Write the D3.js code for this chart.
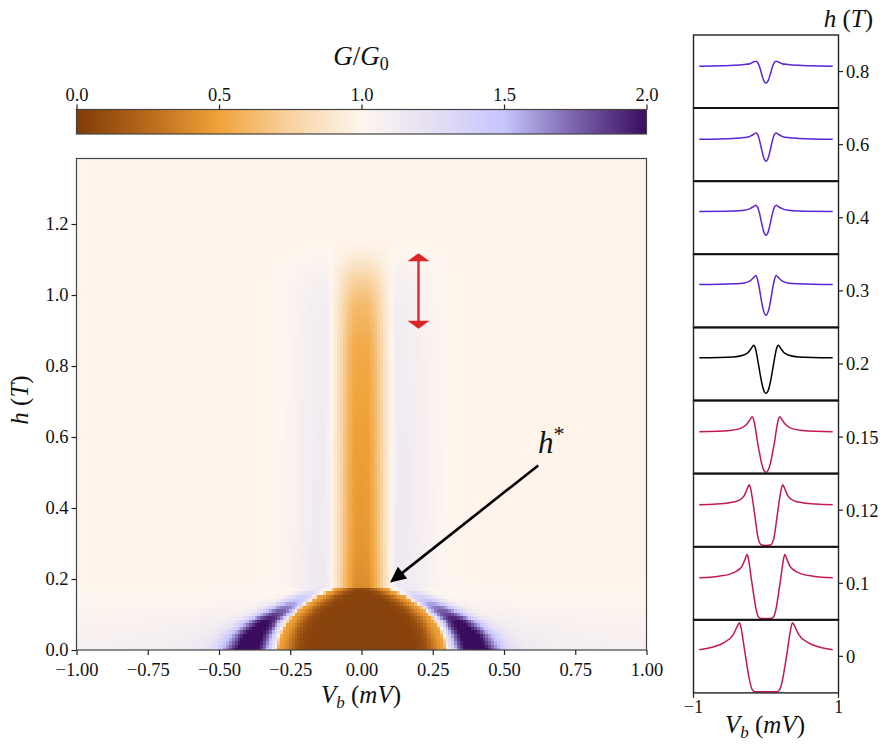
<!DOCTYPE html>
<html>
<head>
<meta charset="utf-8">
<script src="https://cdn.jsdelivr.net/npm/d3@7"></script>
<style>
  body { margin: 0; background: #fff; }
  svg text { font-family: "Liberation Serif", "DejaVu Serif", serif; fill: #111; }
  .it { font-style: italic; }
</style>
</head>
<body>
<svg id="fig" width="883" height="744"></svg>
<script>
// ---- colour map (G/G0) ----
const cmapStops = [0, 0.25, 0.5, 0.75, 1.0, 1.25, 1.5, 1.75, 2.0];
const cmapColors = ["#7f3b08", "#b8691b", "#f1a33a", "#f8d2a0", "#fef6ef", "#e4dff4", "#c6c5fe", "#7a62ab", "#3a0c5e"];
const cbTicks = [0, 0.5, 1.0, 1.5, 2.0];

// ---- main axes ticks ----
const vTicks = [-1, -0.75, -0.5, -0.25, 0, 0.25, 0.5, 0.75, 1];
const hTicks = [0, 0.2, 0.4, 0.6, 0.8, 1.0, 1.2];

// ---- heatmap features ----
const bgVal = 0.985;                    // cream background
// gap (dark brown trapezoid) below h*
const gapH    = [0, 0.03, 0.06, 0.09, 0.12, 0.15, 0.172];
const gapEdge = [0.29, 0.283, 0.268, 0.245, 0.205, 0.15, 0.09];
// purple coherence-peak band below h*
const bandH    = [0, 0.04, 0.08, 0.12, 0.15, 0.172];
const bandPos  = [0.40, 0.38, 0.34, 0.27, 0.21, 0.16];
const bandPeak = [1.95, 1.93, 1.85, 1.62, 1.38, 1.15];
const bandIn   = [0.075, 0.07, 0.06, 0.05, 0.04, 0.035];
const bandOut  = [0.085, 0.08, 0.07, 0.06, 0.05, 0.045];
const bandTail = [0.22, 0.18, 0.12, 0.06, 0.02, 0.0];
// faint lavender tint over the low-field strip
const tintH = [0, 0.05, 0.09, 0.13, 0.17, 0.21];
const tint  = [0.07, 0.06, 0.045, 0.025, 0.01, 0.0];
// orange column above h*
const hStar = 0.172;
const colH      = [0.172, 0.3, 0.6, 0.85, 0.97, 1.04, 1.08, 1.12, 1.16];
const colCenter = [0.40, 0.45, 0.48, 0.53, 0.62, 0.74, 0.86, 0.95, 0.985];
const colHalo   = [0.16, 0.15, 0.14, 0.13, 0.12, 0.09, 0.06, 0.02, 0.0];

// ---- line-cut panels (right), half profiles for Vb >= 0, symmetric ----
const panelH = ["0.8", "0.6", "0.4", "0.3", "0.2", "0.15", "0.12", "0.1", "0"];
const panelColors = ["#5b24d4", "#5b24d4", "#5b24d4", "#5b24d4", "#000000",
                     "#c2185b", "#c2185b", "#c2185b", "#c2185b"];
const cut08  = [[0,0.57],[0.03,0.63],[0.06,0.79],[0.09,0.97],[0.115,1.07],[0.14,1.10],[0.17,1.08],[0.22,1.04],[0.3,1.02],[0.45,1.0],[0.6,0.99],[0.92,0.98]];
const cut06  = [[0,0.45],[0.03,0.53],[0.06,0.73],[0.09,0.96],[0.115,1.09],[0.14,1.13],[0.17,1.10],[0.22,1.05],[0.3,1.02],[0.45,1.0],[0.92,0.98]];
const cut04  = [[0,0.43],[0.03,0.51],[0.06,0.72],[0.09,0.96],[0.115,1.10],[0.14,1.15],[0.17,1.12],[0.22,1.07],[0.3,1.03],[0.45,1.01],[0.92,1.0]];
const cut03  = [[0,0.26],[0.03,0.35],[0.06,0.58],[0.09,0.89],[0.115,1.11],[0.14,1.22],[0.17,1.17],[0.22,1.09],[0.3,1.04],[0.45,1.02],[0.92,1.0]];
const cut02  = [[0,0.14],[0.03,0.21],[0.06,0.41],[0.09,0.70],[0.12,1.0],[0.145,1.22],[0.17,1.30],[0.2,1.23],[0.25,1.12],[0.32,1.06],[0.45,1.02],[0.92,1.0]];
const cut015 = [[0,0.0],[0.03,0.05],[0.06,0.21],[0.08,0.38],[0.1,0.56],[0.12,0.76],[0.15,1.10],[0.17,1.27],[0.19,1.34],[0.22,1.27],[0.27,1.15],[0.35,1.06],[0.5,1.01],[0.92,0.98]];
const cut012 = [[0,0],[0.06,0.01],[0.09,0.07],[0.12,0.28],[0.145,0.60],[0.17,0.92],[0.2,1.26],[0.23,1.46],[0.26,1.36],[0.3,1.20],[0.38,1.08],[0.5,1.03],[0.92,0.98]];
const cut01  = [[0,0],[0.08,0.01],[0.11,0.06],[0.14,0.25],[0.18,0.69],[0.21,1.05],[0.24,1.42],[0.26,1.54],[0.29,1.42],[0.33,1.26],[0.4,1.15],[0.5,1.07],[0.65,1.02],[0.92,0.98]];
const cut0   = [[0,0],[0.15,0],[0.19,0.05],[0.23,0.30],[0.26,0.60],[0.3,1.05],[0.34,1.50],[0.365,1.66],[0.4,1.56],[0.45,1.38],[0.58,1.18],[0.72,1.08],[0.92,1.01]];
const panelCuts = [cut08, cut06, cut04, cut03, cut02, cut015, cut012, cut01, cut0];

const svg = d3.select("#fig");
const color = d3.scaleLinear().domain(cmapStops).range(cmapColors).clamp(true);

// scales for main map
const xs = d3.scaleLinear().domain([-1, 1]).range([76.5, 646.5]);
const ys = d3.scaleLinear().domain([0, 1.386]).range([650, 158]);

// ---------- heatmap ----------
const lin = (d, r) => d3.scaleLinear().domain(d).range(r).clamp(true);
const edgeAt = lin(gapH, gapEdge);
const posAt = lin(bandH, bandPos), peakAt = lin(bandH, bandPeak),
      inAt = lin(bandH, bandIn), outAt = lin(bandH, bandOut), tailAt = lin(bandH, bandTail);
const tintAt = lin(tintH, tint);
const colAt = lin(colH, colCenter), haloAt = lin(colH, colHalo);

function gValue(v, h) {
  const u = Math.abs(v);
  if (h < hStar) {
    const e = edgeAt(h);
    if (u < e) return 0.04 + 0.45 * Math.exp(-Math.pow((e - u) / 0.05, 2));
    const ramp = Math.min(1, (u - e) / 0.015);
    const d = u - posAt(h);
    const band = d < 0 ? Math.exp(-Math.pow(-d / inAt(h), 4)) : Math.exp(-Math.pow(d / outAt(h), 2));
    const tail = tailAt(h) * (d < 0 ? Math.exp(-Math.pow(d / 0.03, 2)) : Math.exp(-d / 0.2));
    return 0.49 + (bgVal - 0.49) * ramp + ramp * ((peakAt(h) - 1) * band + tail + tintAt(h));
  }
  const c = colAt(h);
  const dip = (bgVal - c) * Math.exp(-Math.pow(u / 0.075, 3));
  const dh = u - 0.13;
  const halo = haloAt(h) * (dh < 0 ? Math.exp(-Math.pow(dh / 0.025, 2)) : Math.exp(-Math.pow(dh / 0.12, 2)));
  return bgVal - dip + halo + tintAt(h) * (1 - Math.exp(-Math.pow(u / 0.1, 2)));
}

const vCells = d3.range(-1, 1.0001, 0.01);
const hCells = d3.range(0, 1.386, 0.01);
const px0 = 76, py0 = 158, pw = 571, ph = 492;
const canvas = document.createElement("canvas");
canvas.width = pw; canvas.height = ph;
const ctx = canvas.getContext("2d");
hCells.forEach(h => {
  const y1 = Math.round(ys(h - 0.005)) - py0, y0 = Math.round(ys(h + 0.005)) - py0;
  vCells.forEach(v => {
    const x0 = Math.round(xs(v - 0.005)) - px0, x1 = Math.round(xs(v + 0.005)) - px0;
    ctx.fillStyle = color(gValue(v, h));
    ctx.fillRect(x0, y0, x1 - x0, y1 - y0);
  });
});
svg.append("image")
  .attr("x", px0).attr("y", py0).attr("width", pw).attr("height", ph)
  .attr("href", canvas.toDataURL());

// frame
svg.append("rect").attr("x", 76.5).attr("y", 158.5).attr("width", 570).attr("height", 491.5)
  .attr("fill", "none").attr("stroke", "#444").attr("stroke-width", 1.2);

// axes
const xAxis = svg.append("g").attr("transform", "translate(0,650)")
  .call(d3.axisBottom(xs).tickValues(vTicks).tickFormat(d3.format(".2f")).tickSize(5).tickPadding(8));
const yAxis = svg.append("g").attr("transform", "translate(76.5,0)")
  .call(d3.axisLeft(ys).tickValues(hTicks).tickFormat(d3.format(".1f")).tickSize(5).tickPadding(3));
[xAxis, yAxis].forEach(a => {
  a.select(".domain").remove();
  a.selectAll("line").attr("stroke", "#222").attr("stroke-width", 1.2);
  a.selectAll("text").attr("font-size", 18.5).attr("font-family", "Liberation Serif, serif").attr("fill", "#111");
});

// axis labels
const xl = svg.append("text").attr("x", 361).attr("y", 703).attr("text-anchor", "middle").attr("font-size", 25);
xl.append("tspan").attr("class", "it").text("V");
xl.append("tspan").attr("class", "it").attr("font-size", 17).attr("dy", 5).text("b");
xl.append("tspan").attr("dy", -5).text(" (");
xl.append("tspan").attr("class", "it").text("mV");
xl.append("tspan").text(")");

const yl = svg.append("text").attr("transform", "translate(28,400) rotate(-90)").attr("text-anchor", "middle").attr("font-size", 25);
yl.append("tspan").attr("class", "it").text("h");
yl.append("tspan").text(" (");
yl.append("tspan").attr("class", "it").text("T");
yl.append("tspan").text(")");

// ---------- colour bar ----------
const cbx = d3.scaleLinear().domain([0, 2]).range([76.5, 646.5]);
const grad = svg.append("defs").append("linearGradient").attr("id", "cb")
  .attr("x1", "0%").attr("x2", "100%").attr("y1", "0%").attr("y2", "0%");
cmapStops.forEach((s, i) => grad.append("stop").attr("offset", (s / 2 * 100) + "%").attr("stop-color", cmapColors[i]));
svg.append("rect").attr("x", 76.5).attr("y", 109.5).attr("width", 570).attr("height", 24.5)
  .attr("fill", "url(#cb)").attr("stroke", "#444").attr("stroke-width", 1.2);
const cbAxis = svg.append("g").attr("transform", "translate(0,109.5)")
  .call(d3.axisTop(cbx).tickValues(cbTicks).tickFormat(d3.format(".1f")).tickSize(5).tickPadding(4));
cbAxis.select(".domain").remove();
cbAxis.selectAll("line").attr("stroke", "#222").attr("stroke-width", 1.2);
cbAxis.selectAll("text").attr("font-size", 18.5).attr("font-family", "Liberation Serif, serif").attr("fill", "#111");

const ct = svg.append("text").attr("x", 361).attr("y", 65).attr("text-anchor", "middle").attr("font-size", 27);
ct.append("tspan").attr("class", "it").text("G");
ct.append("tspan").text("/");
ct.append("tspan").attr("class", "it").text("G");
ct.append("tspan").attr("font-size", 18).attr("dy", 5).text("0");

// ---------- annotations ----------
function arrowHead(tip, from, len, wid, fill) {
  const dx = tip[0] - from[0], dy = tip[1] - from[1], L = Math.hypot(dx, dy);
  const ux = dx / L, uy = dy / L;
  const bx = tip[0] - ux * len, by = tip[1] - uy * len;
  return svg.append("path")
    .attr("d", `M${tip[0]},${tip[1]}L${bx - uy * wid / 2},${by + ux * wid / 2}L${bx + uy * wid / 2},${by - ux * wid / 2}Z`)
    .attr("fill", fill);
}
// h* arrow
const aFrom = [xs(0.62), ys(0.52)], aTip = [xs(0.10), ys(0.19)];
{
  const dx = aTip[0] - aFrom[0], dy = aTip[1] - aFrom[1], L = Math.hypot(dx, dy);
  svg.append("line").attr("x1", aFrom[0]).attr("y1", aFrom[1])
    .attr("x2", aTip[0] - dx / L * 12).attr("y2", aTip[1] - dy / L * 12)
    .attr("stroke", "#000").attr("stroke-width", 2.6);
  arrowHead(aTip, aFrom, 16, 15, "#000");
}
const hs = svg.append("text").attr("x", 538).attr("y", 453).attr("font-size", 31);
hs.append("tspan").attr("class", "it").text("h");
hs.append("tspan").attr("font-size", 22).attr("dy", -12).text("*");

// red double arrow
const rTop = [xs(0.2), ys(1.118)], rBot = [xs(0.2), ys(0.905)];
svg.append("line").attr("x1", rTop[0]).attr("y1", rTop[1] + 6).attr("x2", rBot[0]).attr("y2", rBot[1] - 6)
  .attr("stroke", "#e0343a").attr("stroke-width", 2.6);
arrowHead(rTop, rBot, 8, 22, "#dc2626");
arrowHead(rBot, rTop, 8, 22, "#dc2626");

// ---------- right panels ----------
const pxs = d3.scaleLinear().domain([-1, 1]).range([693.5, 838.5]);
const pTop = 35, pStep = 73.1;
panelCuts.forEach((half, i) => {
  const top = pTop + i * pStep, bot = top + pStep;
  const pys = d3.scaleLinear().domain([-0.03, 1.73]).range([bot, top]);
  const pts = half.slice(1).map(([v, g]) => [-v, g]).reverse().concat(half);
  svg.append("path").datum(pts)
    .attr("d", d3.line().x(d => pxs(d[0])).y(d => pys(d[1])).curve(d3.curveMonotoneX))
    .attr("fill", "none").attr("stroke", panelColors[i]).attr("stroke-width", 1.5);
  svg.append("rect").attr("x", 693.5).attr("y", top).attr("width", 145).attr("height", pStep)
    .attr("fill", "none").attr("stroke", "#222").attr("stroke-width", 1.4);
  const cy = (top + bot) / 2;
  svg.append("line").attr("x1", 838.5).attr("x2", 843).attr("y1", cy).attr("y2", cy)
    .attr("stroke", "#222").attr("stroke-width", 1.2);
  svg.append("text").attr("x", 846).attr("y", cy + 6.5).attr("font-size", 18.5).text(panelH[i]);
});
// separators between stacked panels look heavier (two spines meet)
d3.range(1, 9).forEach(i => {
  const y = pTop + i * pStep;
  svg.append("line").attr("x1", 693.5).attr("x2", 838.5).attr("y1", y).attr("y2", y)
    .attr("stroke", "#111").attr("stroke-width", 2);
});
const pBot = pTop + 9 * pStep;
[-1, 1].forEach(v => {
  svg.append("line").attr("x1", pxs(v)).attr("x2", pxs(v)).attr("y1", pBot).attr("y2", pBot + 5)
    .attr("stroke", "#222").attr("stroke-width", 1.2);
  svg.append("text").attr("x", pxs(v)).attr("y", pBot + 20).attr("text-anchor", "middle")
    .attr("font-size", 18.5).text(v < 0 ? "\u22121" : "1");
});
const pxl = svg.append("text").attr("x", 765).attr("y", 733).attr("text-anchor", "middle").attr("font-size", 25);
pxl.append("tspan").attr("class", "it").text("V");
pxl.append("tspan").attr("class", "it").attr("font-size", 17).attr("dy", 5).text("b");
pxl.append("tspan").attr("dy", -5).text(" (");
pxl.append("tspan").attr("class", "it").text("mV");
pxl.append("tspan").text(")");
const pyl = svg.append("text").attr("x", 873).attr("y", 27).attr("text-anchor", "end").attr("font-size", 25);
pyl.append("tspan").attr("class", "it").text("h");
pyl.append("tspan").text(" (");
pyl.append("tspan").attr("class", "it").text("T");
pyl.append("tspan").text(")");
</script>
</body>
</html>
